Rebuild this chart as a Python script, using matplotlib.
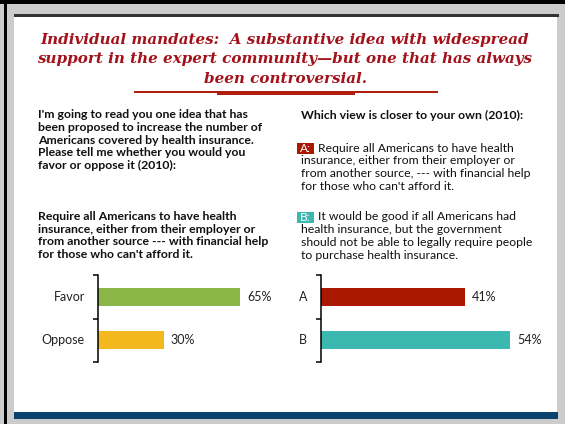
import matplotlib.pyplot as plt
from matplotlib.patches import Rectangle

W, H = 565, 424

# Survey results (2010)
left_cats = ['Favor', 'Oppose']
left_vals = [65, 30]
left_colors = ['#8AB547', '#F2B81E']

right_cats = ['A', 'B']
right_vals = [41, 54]
right_colors = ['#AA1800', '#3DB8B0']

title_lines = [
    'Individual mandates:  A substantive idea with widespread',
    'support in the expert community\u2014but one that has always',
    'been controversial.',
]
left_q = ["I'm going to read you one idea that has",
          'been proposed to increase the number of',
          'Americans covered by health insurance.',
          'Please tell me whether you would you',
          'favor or oppose it (2010):']
left_item = ['Require all Americans to have health',
             'insurance, either from their employer or',
             'from another source --- with financial help',
             "for those who can't afford it."]
right_q = 'Which view is closer to your own (2010):'
opt_a = ['Require all Americans to have health',
         'insurance, either from their employer or',
         'from another source, --- with financial help',
         "for those who can't afford it."]
opt_b = ['It would be good if all Americans had',
         'health insurance, but the government',
         'should not be able to legally require people',
         'to purchase health insurance.']

RED = '#A3121B'
SANS = ['Lato', 'DejaVu Sans']
INK = '#111111'

fig = plt.figure(figsize=(W / 100, H / 100), dpi=100)
fig.patch.set_facecolor('#CCCCCC')


def fx(x):
    return x / W


def fy(y):
    return 1 - y / H


def box(x0, y0, x1, y1, color, z=-1):
    fig.patches.append(Rectangle((fx(x0), fy(y1)), fx(x1) - fx(x0), fy(y0) - fy(y1),
                                 transform=fig.transFigure, color=color, lw=0, zorder=z))


# slide frame
box(0, 0, W, 4, 'black')
box(4, 0, 7, H, 'black')
box(14, 17, 557, 412, 'white', z=-2)
box(14, 14, 559, 17, '#333333')
box(14, 412, 558, 419, '#0B426E')

# title
for i, line in enumerate(title_lines):
    fig.text(fx(285), fy(44 + i * 19.5), line, ha='center', va='baseline',
             family='DejaVu Serif', style='italic', weight='bold',
             fontsize=10.9, color=RED)
box(134, 91.5, 438, 92.5, '#B01E10')
box(217, 92, 355, 95, '#B01E10')

# left question text
for i, line in enumerate(left_q):
    fig.text(fx(38), fy(115 + i * 12.6), line, ha='left', va='center',
             family=SANS, weight='bold', fontsize=8.8, color=INK)
for i, line in enumerate(left_item):
    fig.text(fx(38), fy(217 + i * 12.4), line, ha='left', va='center',
             family=SANS, weight='bold', fontsize=8.8, color=INK)

# right question text
fig.text(fx(301), fy(115), right_q, ha='left', va='center',
         family=SANS, weight='bold', fontsize=8.8, color=INK)


def option(letter, lines, y0, color):
    box(297, y0 - 5.5, 314, y0 + 6, color)
    fig.text(fx(305.5), fy(y0 + 0.5), letter + ':', ha='center', va='center',
             family=SANS, fontsize=8.6, color='white')
    for i, line in enumerate(lines):
        x = 318 if i == 0 else 301
        fig.text(fx(x), fy(y0 + i * 12.8), line, ha='left', va='center',
                 family=SANS, fontsize=8.8, color=INK)


option('A', opt_a, 148, right_colors[0])
option('B', opt_b, 217, right_colors[1])


def bar_chart(x0, px_per_pct, xmax, cats, vals, colors, label_dx, label_ha):
    ax = fig.add_axes([fx(x0), fy(362), px_per_pct * xmax / W, (362 - 275) / H])
    ax.set_facecolor('none')
    pos = range(len(cats))
    ax.barh(pos, vals, height=0.41, color=colors)
    ax.set_xlim(0, xmax)
    ax.set_ylim(len(cats) - 0.5, -0.5)
    for s in ['top', 'right', 'bottom']:
        ax.spines[s].set_visible(False)
    ax.spines['left'].set_linewidth(1.1)
    ax.set_xticks([])
    ax.set_yticks([-0.5, 0.5, 1.5])
    ax.set_yticklabels([])
    ax.tick_params(axis='y', length=3.5, width=1.1, direction='out')
    for p, c in zip(pos, cats):
        ax.annotate(c, (0, p), xycoords=ax.get_yaxis_transform(),
                    xytext=(label_dx * 0.72, 0), textcoords='offset points',
                    ha=label_ha, va='center', family=SANS, fontsize=9,
                    color='#222222')
    for p, v in zip(pos, vals):
        ax.annotate(f'{v}%', (v, p), xytext=(5, 0), textcoords='offset points',
                    ha='left', va='center', family=SANS, fontsize=9,
                    color='#222222')
    return ax


bar_chart(98, 2.185, 100, left_cats, left_vals, left_colors, -13, 'right')
bar_chart(321, 3.5, 60, right_cats, right_vals, right_colors, -18, 'center')

fig.savefig('out.png', dpi=100)
